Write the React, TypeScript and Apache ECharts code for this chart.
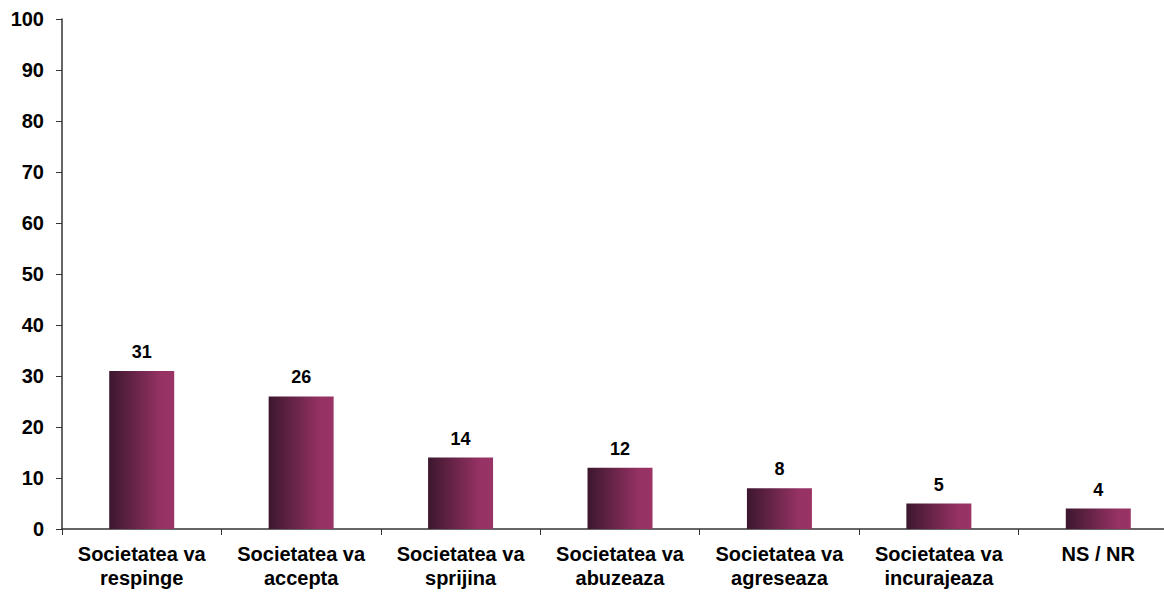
import React, { useEffect, useRef } from "react";
import * as echarts from "echarts";

const categories = [
  "Societatea va\nrespinge",
  "Societatea va\naccepta",
  "Societatea va\nsprijina",
  "Societatea va\nabuzeaza",
  "Societatea va\nagreseaza",
  "Societatea va\nincurajeaza",
  "NS / NR",
];
const values = [31, 26, 14, 12, 8, 5, 4];

export default function App() {
  const ref = useRef<HTMLDivElement>(null);
  useEffect(() => {
    const chart = echarts.init(ref.current!, null, { renderer: "svg" });
    chart.setOption({
      animation: false,
      textStyle: { fontFamily: "Liberation Sans, Arial, sans-serif" },
      grid: { left: 62, top: 19, width: 1116, height: 510, containLabel: false },
      xAxis: {
        type: "category",
        data: categories,
        axisLine: { lineStyle: { color: "#333", width: 1.5 } },
        axisTick: { show: true, length: 6, alignWithLabel: false, lineStyle: { color: "#333" } },
        axisLabel: {
          color: "#000",
          fontWeight: "bold",
          fontSize: 20,
          lineHeight: 24,
          margin: 13,
          interval: 0,
        },
      },
      yAxis: {
        type: "value",
        min: 0,
        max: 100,
        interval: 10,
        splitLine: { show: false },
        axisLine: { show: true, lineStyle: { color: "#333", width: 1.5 } },
        axisTick: { show: true, length: 6, lineStyle: { color: "#333" } },
        axisLabel: { color: "#000", fontWeight: "bold", fontSize: 20, margin: 18 },
      },
      series: [
        {
          type: "bar",
          data: values,
          barWidth: 65,
          itemStyle: {
            color: new echarts.graphic.LinearGradient(0, 0, 1, 0, [
              { offset: 0, color: "#3c172e" },
              { offset: 0.8, color: "#963264" },
              { offset: 1, color: "#9a3366" },
            ]),
          },
          label: {
            show: true,
            position: "top",
            distance: 10,
            color: "#000",
            fontWeight: "bold",
            fontSize: 18,
          },
        },
      ],
    });
    return () => chart.dispose();
  }, []);
  return (
    <div
      style={{
        position: "absolute",
        left: 0,
        top: 0,
        width: 1164,
        height: 592,
        overflow: "hidden",
        background: "#fff",
      }}
    >
      <div ref={ref} style={{ width: 1180, height: 592 }} />
    </div>
  );
}
